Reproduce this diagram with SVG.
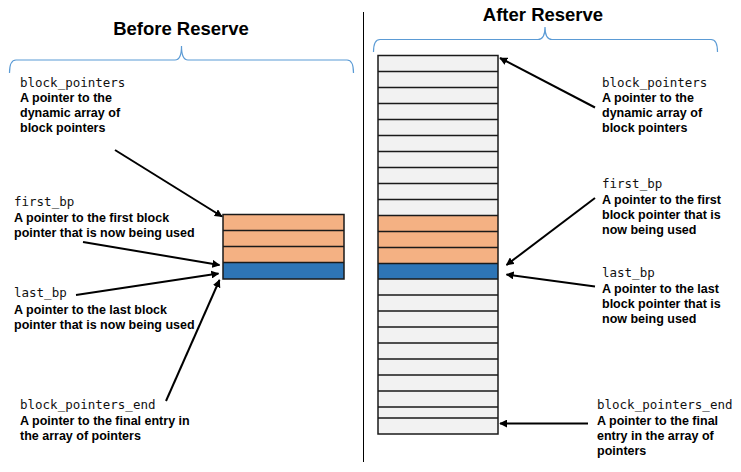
<svg xmlns="http://www.w3.org/2000/svg" width="741" height="472" viewBox="0 0 741 472">
<defs>
<style>
.title{font-family:"Liberation Sans",Arial,sans-serif;font-weight:bold;font-size:18.5px;fill:#000;text-anchor:middle}
.mono{font-family:"DejaVu Sans Mono","Liberation Mono",monospace;font-size:12.5px;fill:#111}
.desc{font-family:"Liberation Sans",Arial,sans-serif;font-weight:bold;font-size:12.5px;fill:#000}
.brace{fill:none;stroke:#5B9BD5;stroke-width:1.2}
.cell{stroke:#1a1a1a;stroke-width:1.5}
.conn{stroke:#000;stroke-width:2;fill:none;marker-end:url(#ah)}
</style>
<marker id="ah" viewBox="0 0 10 10" refX="9" refY="5" markerWidth="4" markerHeight="4" orient="auto" markerUnits="strokeWidth">
<path d="M0,0 L10,5 L0,10 z" fill="#000"/>
</marker>
</defs>
<rect width="741" height="472" fill="#fff"/>

<g id="titles">
<text class="title" x="181" y="35">Before Reserve</text>
<text class="title" x="543" y="20.5">After Reserve</text>
</g>

<g id="braces">
<path class="brace" d="M9.5,73 Q9.5,60 16,60 L175,60 Q181.5,60 181.5,46 Q181.5,60 188,60 L347,60 Q353.5,60 353.5,73"/>
<path class="brace" d="M373.5,52 Q373.5,39.5 380,39.5 L538,39.5 Q545,39.5 545,27 Q545,39.5 552,39.5 L711,39.5 Q717.5,39.5 717.5,52"/>
</g>

<g id="divider">
<line x1="363.5" y1="12" x2="363.5" y2="462" stroke="#000" stroke-width="1"/>
</g>

<g id="array-before">
<rect x="223" y="214.5" width="121" height="48" fill="#F4B183"/>
<rect x="223" y="262.5" width="121" height="16.5" fill="#2E75B6"/>
<rect class="cell" x="223" y="214.5" width="121" height="64.5" fill="none"/>
<path class="cell" d="M223,230.5H344M223,246.5H344M223,262.5H344"/>
</g>

<g id="array-after">
<rect x="378" y="55.5" width="120" height="378.5" fill="#F2F2F2"/>
<rect x="378" y="215.5" width="120" height="48" fill="#F4B183"/>
<rect x="378" y="263.5" width="120" height="15.5" fill="#2E75B6"/>
<rect class="cell" x="378" y="55.5" width="120" height="378.5" fill="none"/>
<path class="cell" d="M378,71.5H498M378,87.5H498M378,103.5H498M378,119.5H498M378,135.5H498M378,151.5H498M378,167.5H498M378,183.5H498M378,199.5H498M378,215.5H498M378,231.5H498M378,247.5H498M378,263.5H498M378,279H498M378,295H498M378,311H498M378,327H498M378,343H498M378,359H498M378,375H498M378,391H498M378,407H498M378,418H498"/>
</g>

<g id="label-before-block-pointers">
<text class="mono" x="20" y="86.5">block_pointers</text>
<text class="desc" x="20" y="102">A pointer to the</text>
<text class="desc" x="20" y="117">dynamic array of</text>
<text class="desc" x="20" y="132">block pointers</text>
</g>
<g id="label-before-first-bp">
<text class="mono" x="14" y="205.5">first_bp</text>
<text class="desc" x="14" y="222">A pointer to the first block</text>
<text class="desc" x="14" y="236.5">pointer that is now being used</text>
</g>
<g id="label-before-last-bp">
<text class="mono" x="14" y="297">last_bp</text>
<text class="desc" x="14" y="314">A pointer to the last block</text>
<text class="desc" x="14" y="328.5">pointer that is now being used</text>
</g>
<g id="label-before-end">
<text class="mono" x="20" y="409">block_pointers_end</text>
<text class="desc" x="20" y="425">A pointer to the final entry in</text>
<text class="desc" x="20" y="440">the array of pointers</text>
</g>

<g id="label-after-block-pointers">
<text class="mono" x="602" y="86.5">block_pointers</text>
<text class="desc" x="602" y="102">A pointer to the</text>
<text class="desc" x="602" y="117">dynamic array of</text>
<text class="desc" x="602" y="132">block pointers</text>
</g>
<g id="label-after-first-bp">
<text class="mono" x="602" y="187.5">first_bp</text>
<text class="desc" x="602" y="203.5">A pointer to the first</text>
<text class="desc" x="602" y="218.5">block pointer that is</text>
<text class="desc" x="602" y="233.5">now being used</text>
</g>
<g id="label-after-last-bp">
<text class="mono" x="602" y="276.5">last_bp</text>
<text class="desc" x="602" y="292.5">A pointer to the last</text>
<text class="desc" x="602" y="307.5">block pointer that is</text>
<text class="desc" x="602" y="322.5">now being used</text>
</g>
<g id="label-after-end">
<text class="mono" x="597" y="409">block_pointers_end</text>
<text class="desc" x="597" y="424.5">A pointer to the final</text>
<text class="desc" x="597" y="439.5">entry in the array of</text>
<text class="desc" x="597" y="454.5">pointers</text>
</g>

<g id="connectors">
<line class="conn" x1="115" y1="150" x2="222" y2="216.5"/>
<line class="conn" x1="83" y1="242" x2="219.5" y2="265"/>
<line class="conn" x1="76" y1="295" x2="218.5" y2="273.5"/>
<line class="conn" x1="166" y1="401" x2="219.5" y2="280"/>
<line class="conn" x1="595" y1="107.5" x2="500" y2="58"/>
<line class="conn" x1="595" y1="198" x2="506.5" y2="265"/>
<line class="conn" x1="595" y1="286.5" x2="506.5" y2="274.5"/>
<line class="conn" x1="588" y1="423.5" x2="500" y2="423.5"/>
</g>
</svg>
